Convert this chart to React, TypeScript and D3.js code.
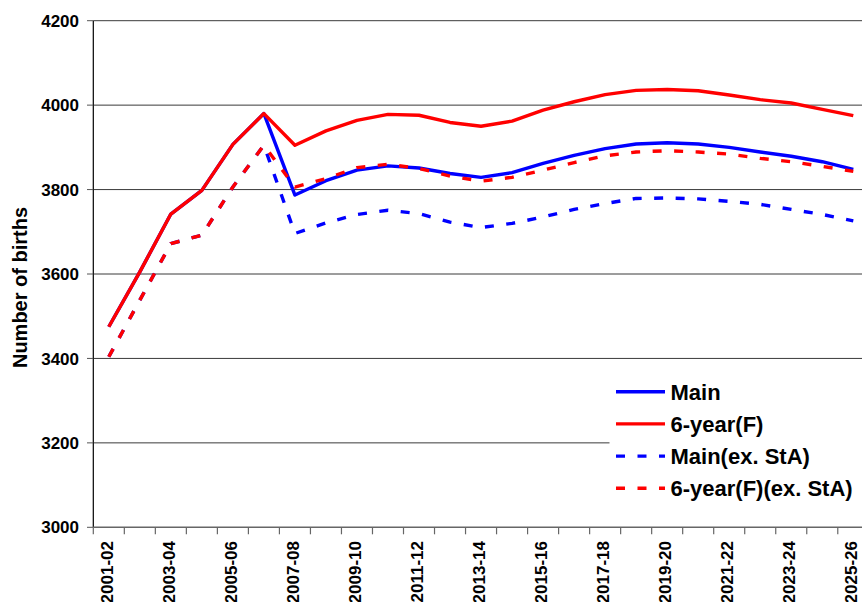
import React from "react";
import * as d3 from "d3";

const categories = [
  "2001-02","2002-03","2003-04","2004-05","2005-06","2006-07","2007-08","2008-09","2009-10",
  "2010-11","2011-12","2012-13","2013-14","2014-15","2015-16","2016-17","2017-18","2018-19",
  "2019-20","2020-21","2021-22","2022-23","2023-24","2024-25","2025-26",
];

const mainSeries = [3475, 3605, 3742, 3798, 3907, 3980, 3787, 3821, 3846, 3856, 3851, 3838, 3829, 3840, 3862, 3881, 3897, 3908, 3911, 3908, 3900, 3889, 3879, 3866, 3848];
const sixYear = [3475, 3605, 3742, 3798, 3907, 3980, 3905, 3939, 3964, 3978, 3976, 3959, 3950, 3962, 3988, 4008, 4025, 4035, 4037, 4034, 4024, 4013, 4005, 3990, 3975];
const mainEx = [3404, 3538, 3672, 3692, 3806, 3905, 3696, 3721, 3741, 3751, 3743, 3723, 3710, 3720, 3735, 3753, 3767, 3779, 3780, 3778, 3772, 3765, 3753, 3741, 3726];
const sixYearEx = [3404, 3538, 3672, 3692, 3806, 3905, 3806, 3826, 3852, 3860, 3850, 3832, 3820, 3829, 3846, 3864, 3880, 3889, 3892, 3889, 3884, 3874, 3866, 3855, 3843];

const yTicks = [3000, 3200, 3400, 3600, 3800, 4000, 4200];

const seriesList = [
  { name: "Main", values: mainSeries, color: "#0000FF", dashed: false },
  { name: "6-year(F)", values: sixYear, color: "#FF0000", dashed: false },
  { name: "Main(ex. StA)", values: mainEx, color: "#0000FF", dashed: true },
  { name: "6-year(F)(ex. StA)", values: sixYearEx, color: "#FF0000", dashed: true },
];

const W = 862;
const H = 602;
const FONT = "'Liberation Sans', Arial, sans-serif";

export default function App() {
  const x = d3.scaleBand<string>().domain(categories).range([93.3, 868.8]).padding(0);
  const y = d3.scaleLinear().domain([3000, 4200]).range([527.3, 20.7]);
  const bw = x.bandwidth();
  const cx = (c: string) => (x(c) as number) + bw / 2;

  const line = d3
    .line<number>()
    .x((_, i) => cx(categories[i]))
    .y((v) => y(v));

  const boundaries = d3.range(categories.length + 1).map((i) => 93.3 + i * bw);

  return (
    <svg
      width={W}
      height={H}
      style={{ position: "absolute", left: 0, top: 0, background: "#fff" }}
      fontFamily={FONT}
    >
      <rect x={0} y={0} width={W} height={H} fill="#fff" />
      {yTicks.slice(1).map((t) => (
        <line key={t} x1={93.3} x2={870} y1={y(t)} y2={y(t)} stroke="#3a3a3a" strokeWidth={1} />
      ))}
      <line x1={93.3} x2={93.3} y1={y(4200)} y2={y(3000)} stroke="#000" strokeWidth={1.2} />
      {yTicks.map((t) => (
        <g key={"yt" + t}>
          <line x1={87} x2={93.3} y1={y(t)} y2={y(t)} stroke="#555" strokeWidth={1} />
          <text x={79} y={y(t)} dy="0.36em" textAnchor="end" fontSize={17} fontWeight="bold" fill="#000">
            {t}
          </text>
        </g>
      ))}
      <line x1={93.3} x2={870} y1={y(3000)} y2={y(3000)} stroke="#666" strokeWidth={1.5} />
      {boundaries.map((b, i) => (
        <line key={"xt" + i} x1={b} x2={b} y1={y(3000)} y2={y(3000) + 7} stroke="#666" strokeWidth={1.2} />
      ))}
      {categories.map((c, i) =>
        i % 2 === 0 ? (
          <text
            key={"xl" + c}
            transform={`translate(${cx(c) + 3.8},541) rotate(-90)`}
            textAnchor="end"
            fontSize={17}
            fontWeight="bold"
            fill="#000"
          >
            {c}
          </text>
        ) : null
      )}
      <text
        transform="translate(26.5,287.5) rotate(-90)"
        textAnchor="middle"
        fontSize={20}
        fontWeight="bold"
        fill="#000"
      >
        Number of births
      </text>
      {seriesList.map((s) => (
        <path
          key={s.name}
          d={line(s.values) as string}
          fill="none"
          stroke={s.color}
          strokeWidth={3.4}
          strokeDasharray={s.dashed ? "9,12.5" : undefined}
          strokeLinejoin="round"
        />
      ))}
      <rect x={609.5} y={372} width={260} height={134} fill="#fff" />
      {seriesList.map((s, i) => {
        const ly = 391.7 + i * 32.2;
        return (
          <g key={"lg" + s.name}>
            <line
              x1={616}
              x2={665}
              y1={ly}
              y2={ly}
              stroke={s.color}
              strokeWidth={3.4}
              strokeDasharray={s.dashed ? "9,12.5" : undefined}
            />
            <text x={670.5} y={ly} dy="0.36em" fontSize={22} fontWeight="bold" fill="#000">
              {s.name}
            </text>
          </g>
        );
      })}
    </svg>
  );
}
